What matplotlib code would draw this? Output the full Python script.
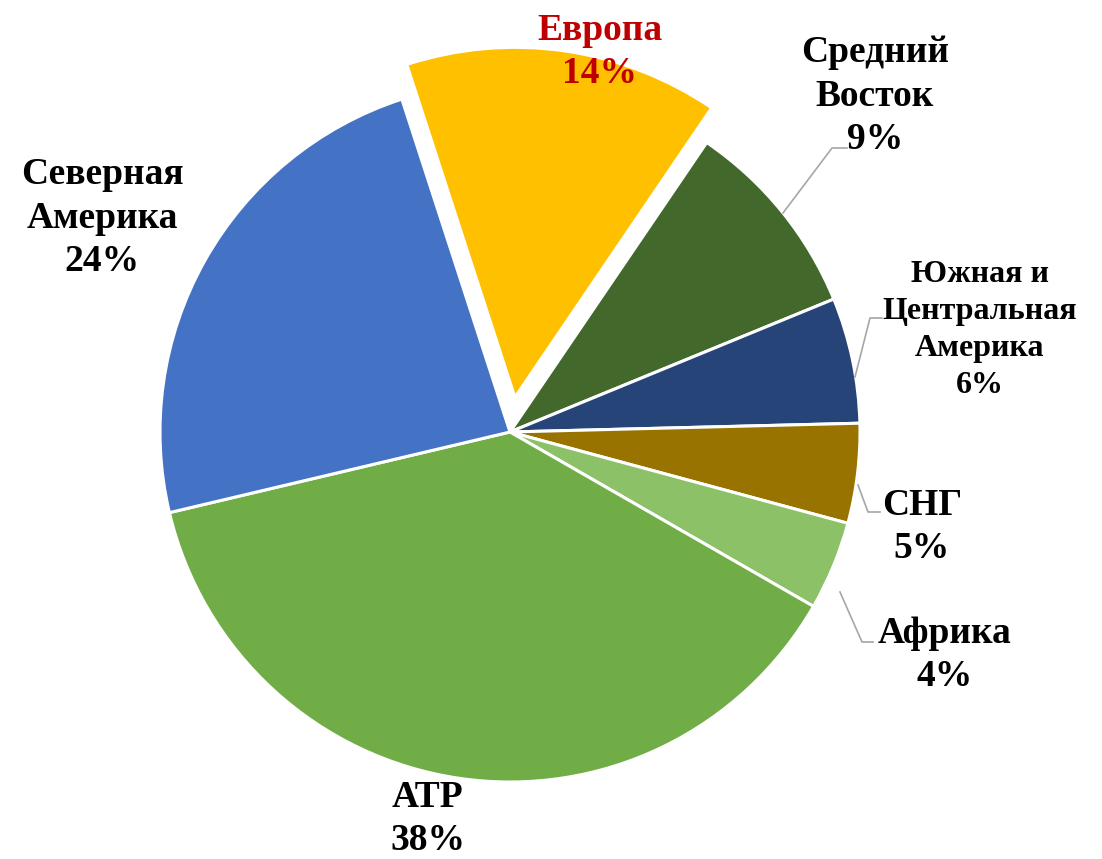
import matplotlib
matplotlib.use("Agg")
from matplotlib import pyplot as plt

# данные
regions = ["Европа", "Средний\nВосток", "Южная и\nЦентральная\nАмерика", "СНГ",
           "Африка", "АТР", "Северная\nАмерика"]
shares = [14.5, 9.3, 5.8, 4.6, 4.1, 38.0, 23.7]   # доли по углам секторов
pct_text = ["14%", "9%", "6%", "5%", "4%", "38%", "24%"]
colors = ["#FFC000", "#43682B", "#264478", "#997300", "#8CC168", "#70AD47", "#4472C4"]

# центр круга и радиус в пикселях
CX, CY, R = 510, 432, 350
W, H = 1102, 859

def px(x, y):
    return (x - CX) / R, (CY - y) / R

# позиции подписей (пиксели) и размеры шрифта
label_pos = [(600, 52), (875, 96), (980, 330), (922, 527), (945, 655), (428, 819), (102, 218)]
label_size = [27, 27, 23, 27, 27, 27, 27]
label_ls = [1.3, 1.3, 1.35, 1.3, 1.3, 1.3, 1.3]
label_color = ["#C00000"] + ["black"] * 6

# линии-выноски (пиксели)
leaders = [
    [(783, 213), (832, 148), (847, 148)],
    [(855, 377), (870, 318), (882, 318)],
    [(858, 485), (868, 512), (880, 512)],
    [(840, 592), (862, 642), (873, 642)],
]

plt.rcParams['font.family'] = ['Liberation Serif', 'DejaVu Serif']

fig = plt.figure(figsize=(W / 100, H / 100), dpi=100)
ax = fig.add_axes([0, 0, 1, 1])

explode = [0.1, 0, 0, 0, 0, 0, 0]
ax.pie(shares, colors=colors, explode=explode, startangle=108, counterclock=False,
       radius=1, center=(0, 0), frame=True,
       wedgeprops=dict(edgecolor="white", linewidth=2.2))
ax.set_xlim(-CX / R, (W - CX) / R)
ax.set_ylim(-(H - CY) / R, CY / R)
ax.axis("off")

for name, pct, pos, fs, ls, col in zip(regions, pct_text, label_pos, label_size, label_ls, label_color):
    x, y = px(*pos)
    ax.text(x, y, name + "\n" + pct, ha="center", va="center",
            fontsize=fs, fontweight="bold", color=col, linespacing=ls)

for pts in leaders:
    xs = [px(*p)[0] for p in pts]
    ys = [px(*p)[1] for p in pts]
    ax.plot(xs, ys, color="#A6A6A6", linewidth=1.2)

fig.savefig("out.png", dpi=100)
